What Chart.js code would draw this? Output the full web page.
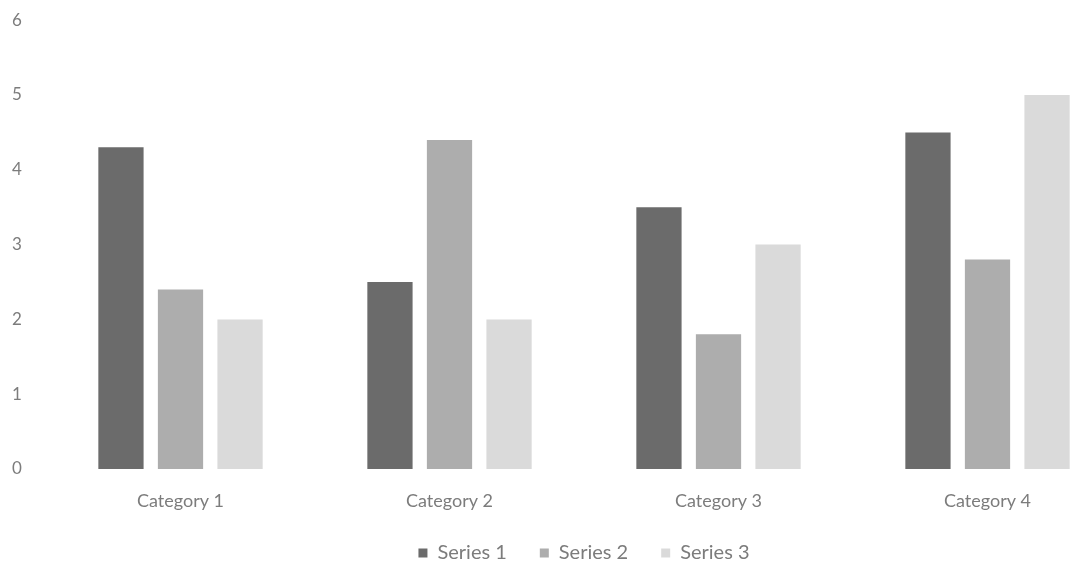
<!DOCTYPE html>
<html>
<head>
<meta charset="utf-8">
<script src="https://cdn.jsdelivr.net/npm/chart.js@4/dist/chart.umd.min.js"></script>
<style>
  html, body { margin: 0; padding: 0; background: #fff; overflow: hidden; }
  #wrap { width: 1166px; height: 567px; }
</style>
</head>
<body>
<div id="wrap"><canvas id="chart" width="1166" height="567"></canvas></div>
<script>
const categories = ['Category 1', 'Category 2', 'Category 3', 'Category 4'];
const series1 = [4.3, 2.5, 3.5, 4.5];
const series2 = [2.4, 4.4, 1.8, 2.8];
const series3 = [2, 2, 3, 5];
const seriesNames = ['Series 1', 'Series 2', 'Series 3'];
const yTicks = [0, 1, 2, 3, 4, 5, 6];

const colors = ['#6b6b6b', '#adadad', '#dadada'];
const textColor = '#7c7c7c';
const fontFamily = 'Lato, "Open Sans", sans-serif';

// Center the legend under the plot area rather than under the padded canvas
const centerLegendOnPlot = {
  id: 'centerLegendOnPlot',
  afterLayout(chart) {
    const lg = chart.legend;
    if (!lg) return;
    const plotMid = (chart.chartArea.left + chart.chartArea.right) / 2;
    const shift = plotMid - (lg.left + lg.right) / 2;
    lg.left += shift;
    lg.right += shift;
  }
};

new Chart(document.getElementById('chart'), {
  type: 'bar',
  data: {
    labels: categories,
    datasets: [series1, series2, series3].map((vals, i) => ({
      label: seriesNames[i],
      data: vals,
      backgroundColor: colors[i],
      borderWidth: 0,
      categoryPercentage: 0.664,
      barPercentage: 0.76
    }))
  },
  plugins: [centerLegendOnPlot],
  options: {
    responsive: false,
    animation: false,
    layout: { padding: { left: 12, right: 44, top: 8, bottom: -6 } },
    plugins: {
      tooltip: { enabled: false },
      legend: {
        position: 'bottom',
        labels: {
          color: textColor,
          font: { family: fontFamily, size: 20 },
          boxWidth: 9,
          boxHeight: 9,
          padding: 33
        }
      }
    },
    scales: {
      x: {
        grid: { display: false },
        border: { display: false },
        afterFit: (scale) => { scale.height = 41; },
        ticks: {
          color: textColor,
          font: { family: fontFamily, size: 18 },
          padding: 13
        }
      },
      y: {
        min: yTicks[0],
        max: yTicks[yTicks.length - 1],
        grid: { display: false },
        border: { display: false },
        afterFit: (scale) => { scale.width = 34; },
        afterBuildTicks: (scale) => { scale.ticks = yTicks.map(v => ({ value: v })); },
        ticks: {
          color: textColor,
          font: { family: fontFamily, size: 17 },
          crossAlign: 'far',
          padding: 10
        }
      }
    }
  }
});
</script>
</body>
</html>
